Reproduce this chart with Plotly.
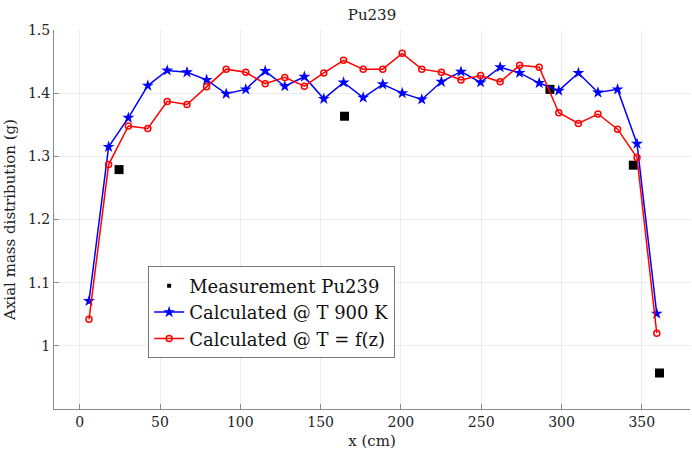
import plotly.graph_objects as go

x_calc = [5.8, 18.0, 30.3, 42.4, 54.5, 66.8, 79.0, 91.2, 103.4, 115.5,
          127.7, 139.9, 152.0, 164.3, 176.5, 188.7, 200.8, 213.0, 225.2, 237.4,
          249.6, 261.8, 273.9, 286.1, 298.3, 310.5, 322.7, 334.9, 347.0, 359.3]
y_900 = [1.071, 1.315, 1.361, 1.412, 1.436, 1.433, 1.421, 1.399, 1.406, 1.435,
         1.411, 1.426, 1.391, 1.417, 1.393, 1.414, 1.400, 1.390, 1.418, 1.434,
         1.417, 1.441, 1.432, 1.416, 1.404, 1.432, 1.401, 1.406, 1.320, 1.051]
y_fz = [1.042, 1.287, 1.348, 1.344, 1.387, 1.382, 1.410, 1.438, 1.433, 1.415,
        1.425, 1.411, 1.432, 1.452, 1.438, 1.438, 1.463, 1.438, 1.433, 1.421,
        1.428, 1.418, 1.444, 1.441, 1.369, 1.352, 1.367, 1.343, 1.298, 1.020]
x_meas = [24.5, 164.9, 292.8, 344.7, 361.0]
y_meas = [1.279, 1.3635, 1.406, 1.286, 0.957]

x_ticks = [0, 50, 100, 150, 200, 250, 300, 350]
y_ticks = [1.0, 1.1, 1.2, 1.3, 1.4, 1.5]
y_ticklabels = ["1", "1.1", "1.2", "1.3", "1.4", "1.5"]

FONT = "'DejaVu Serif', 'Liberation Serif', serif"

fig = go.Figure()
fig.add_trace(go.Scatter(
    x=x_meas, y=y_meas, mode="markers", name="Measurement Pu239",
    marker=dict(symbol="square", size=9, color="black"),
    legendgroup="meas", showlegend=False,
))
# legend entry for measurements (small marker as in the reference legend)
fig.add_trace(go.Scatter(
    x=[None], y=[None], mode="markers", name="Measurement Pu239",
    marker=dict(symbol="square", size=4, color="black"),
    legendgroup="meas", showlegend=True,
))
fig.add_trace(go.Scatter(
    x=x_calc, y=y_900, mode="lines+markers", name="Calculated @ T 900 K",
    line=dict(color="#0000ff", width=1.5),
    marker=dict(symbol="star", size=9, color="#0000ff"),
))
fig.add_trace(go.Scatter(
    x=x_calc, y=y_fz, mode="lines+markers", name="Calculated @ T = f(z)",
    line=dict(color="#ff0000", width=1.5),
    marker=dict(symbol="circle-open", size=6, color="#ff0000", line=dict(width=1.5)),
))

axis_common = dict(
    showgrid=True, gridcolor="#ececec", gridwidth=1,
    showline=True, linecolor="#8a8a8a", linewidth=1,
    ticks="inside", ticklen=5, tickcolor="#8a8a8a",
    zeroline=False, mirror=False,
    tickfont=dict(family=FONT, size=14, color="#222"),
)

fig.update_layout(
    width=692, height=451,
    margin=dict(l=54, r=2, t=30, b=42),
    paper_bgcolor="white", plot_bgcolor="white",
    title=dict(text="Pu239", x=(54 + 690) / 2 / 692, xanchor="center",
               y=1 - 15 / 451, yanchor="middle",
               font=dict(family=FONT, size=15, color="#222")),
    font=dict(family=FONT, color="#222"),
    xaxis=dict(range=[-16, 380], tickvals=x_ticks,
               title=dict(text="x (cm)", font=dict(family=FONT, size=15, color="#222"), standoff=6),
               **axis_common),
    yaxis=dict(range=[0.9, 1.5], tickvals=y_ticks, ticktext=y_ticklabels,
               title=dict(text="Axial mass distribution (g)", font=dict(family=FONT, size=15, color="#222"), standoff=8),
               **axis_common),
    legend=dict(x=0.148, y=0.376, xanchor="left", yanchor="top",
                bgcolor="white", bordercolor="#777", borderwidth=1,
                font=dict(family=FONT, size=18, color="#111"),
                itemwidth=30, tracegroupgap=0, traceorder="normal"),
    showlegend=True,
)

fig.write_html("out.html")
